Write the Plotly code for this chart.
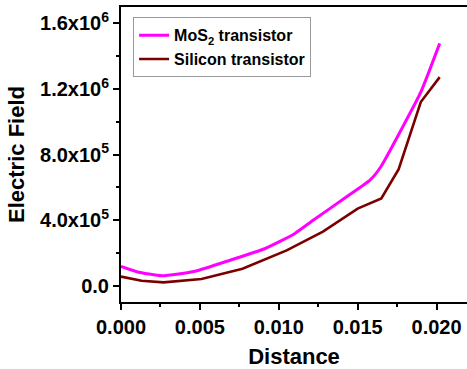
import plotly.graph_objects as go

# Data
mos2_x = [0.0, 0.001, 0.0026, 0.0047, 0.0070, 0.0091, 0.0110, 0.0122, 0.0143, 0.0158, 0.0165, 0.0177, 0.0190, 0.0202]
mos2_y = [1.17e5, 8.5e4, 6.0e4, 8.8e4, 1.58e5, 2.25e5, 3.17e5, 4.0e5, 5.42e5, 6.45e5, 7.3e5, 9.4e5, 1.18e6, 1.478e6]
si_x = [0.0, 0.0013, 0.0027, 0.0051, 0.0077, 0.0105, 0.0128, 0.0150, 0.0165, 0.0176, 0.0190, 0.0202]
si_y = [5.5e4, 3.0e4, 2.0e4, 4.0e4, 1.03e5, 2.15e5, 3.3e5, 4.7e5, 5.32e5, 7.1e5, 1.12e6, 1.272e6]
y_tickvals = [0, 4e5, 8e5, 1.2e6, 1.6e6]
y_ticktext = ["0.0", "4.0x10<sup>5</sup>", "8.0x10<sup>5</sup>", "1.2x10<sup>6</sup>", "1.6x10<sup>6</sup>"]
x_tickvals = [0.0, 0.005, 0.010, 0.015, 0.020]
x_ticktext = ["0.000", "0.005", "0.010", "0.015", "0.020"]

fig = go.Figure()
fig.add_trace(go.Scatter(x=mos2_x, y=mos2_y, mode="lines", name="MoS<sub>2</sub> transistor",
                         legendgroup="a",
                         line=dict(color="#FF00FF", width=3, shape="spline", smoothing=0.5)))
fig.add_trace(go.Scatter(x=si_x, y=si_y, mode="lines", name="Silicon transistor",
                         legendgroup="b",
                         line=dict(color="#7A0000", width=2.6)))

font = "Liberation Sans, Arial, sans-serif"
fig.update_layout(
    width=467, height=369,
    margin=dict(l=121, r=0, t=7, b=67),
    paper_bgcolor="white", plot_bgcolor="white",
    font=dict(family=font, color="black"),
    showlegend=True,
    legend=dict(x=0.035, y=0.965, xanchor="left", yanchor="top",
                bordercolor="#999999", borderwidth=1, bgcolor="white",
                font=dict(size=16, family=font, weight="bold"),
                tracegroupgap=4, itemwidth=30, traceorder="normal"),
)
fig.update_xaxes(range=[0, 0.02193], tickvals=x_tickvals, ticktext=x_ticktext,
                 showline=True, linecolor="black", linewidth=2, mirror=True,
                 ticks="outside", ticklen=6, tickwidth=2, tickcolor="black",
                 minor=dict(ticks="outside", ticklen=3, tickwidth=2, tickcolor="black", dtick=0.0025, tick0=0),
                 showgrid=False, zeroline=False,
                 tickfont=dict(size=20, family=font, weight="bold"),
                 title=dict(text="Distance", font=dict(size=22, family=font, weight="bold"), standoff=12))
fig.update_yaxes(range=[-1.0e5, 1.7e6], tickvals=y_tickvals, ticktext=y_ticktext,
                 showline=True, linecolor="black", linewidth=2, mirror=False,
                 ticks="outside", ticklen=6, tickwidth=2, tickcolor="black",
                 minor=dict(ticks="outside", ticklen=3, tickwidth=2, tickcolor="black", dtick=2e5, tick0=0),
                 showgrid=False, zeroline=False,
                 tickfont=dict(size=20, family=font, weight="bold"),
                 title=dict(text="Electric Field", font=dict(size=22, family=font, weight="bold"), standoff=9))

fig.write_html("out.html")
